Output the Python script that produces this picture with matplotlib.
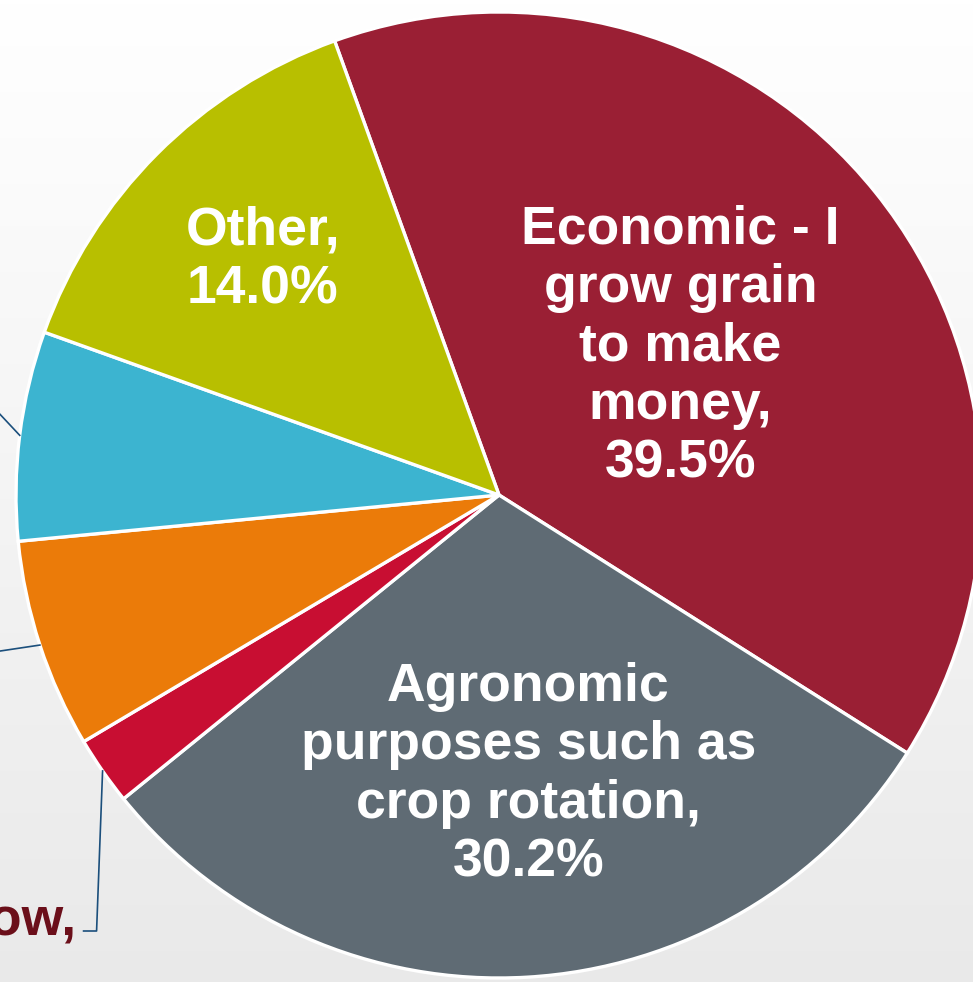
import numpy as np
import matplotlib
matplotlib.use("Agg")
from matplotlib import pyplot as plt

# slice data (clockwise from the top-left edge of the "Economic" slice)
labels = ["Economic - I\ngrow grain\nto make\nmoney,", "Agronomic\npurposes such as\ncrop rotation,",
          "grow,", "", "", "Other,"]
values = [39.5, 30.2, 2.3, 7.0, 7.0, 14.0]
colors = ["#9A1F34", "#5F6B74", "#C80E32", "#EB7B09", "#3CB4D0", "#B8BF00"]

W, H = 973, 982
plt.rcParams['font.family'] = ['Liberation Sans', 'DejaVu Sans']

fig = plt.figure(figsize=(W / 100, H / 100), dpi=100)

# background gradient
bg = fig.add_axes([0, 0, 1, 1])
grad = np.linspace(1.0, 0.915, 256).reshape(-1, 1)
bg.imshow(np.dstack([grad, grad, grad]), aspect='auto', extent=[0, 1, 0, 1])
bg.axis('off')

ax = fig.add_axes([0, 0, 1, 1])
ax.patch.set_alpha(0)
cx, cy, R = 499, H - 495, 483
wedges, _ = ax.pie(values, colors=colors, startangle=109.9, counterclock=False,
                   center=(cx, cy), radius=R, normalize=True,
                   wedgeprops=dict(edgecolor='white', linewidth=2.4))
ax.set_xlim(0, W)
ax.set_ylim(0, H)
ax.set_aspect('equal')
ax.axis('off')

# labels inside the big slices: (radius fraction, x nudge)
inside = {0: (0.49, -3), 1: (0.58, 13), 5: (0.69, 0)}
for i, (frac, nx) in inside.items():
    w = wedges[i]
    th = np.deg2rad((w.theta1 + w.theta2) / 2)
    ax.text(cx + frac * R * np.cos(th) + nx, cy + frac * R * np.sin(th),
            f"{labels[i]}\n{values[i]:.1f}%", ha='center', va='center',
            color='white', fontsize=38.5, fontweight='bold', linespacing=1.22)

# leader lines for the small slices (labels are off the left edge)
lc = "#1B4F7C"
for i in (2, 3, 4):
    w = wedges[i]
    th = np.deg2rad((w.theta1 + w.theta2) / 2)
    x0, y0 = cx + R * np.cos(th), cy + R * np.sin(th)
    if i == 4:
        ax.plot([x0, x0 - 30], [y0, y0 + 32], color=lc, lw=1.2, clip_on=False)
    elif i == 3:
        ax.plot([x0, x0 - 60], [y0, y0 - 9], color=lc, lw=1.2, clip_on=False)
    else:
        ax.plot([x0, x0 - 6, x0 - 19], [y0, H - 931, H - 931], color=lc, lw=1.2)
        ax.text(x0 - 26, H - 921, "I like to grow,", ha='right', va='center',
                color="#6B0F1A", fontsize=38.5, fontweight='bold')

fig.savefig("out.png", dpi=100)
